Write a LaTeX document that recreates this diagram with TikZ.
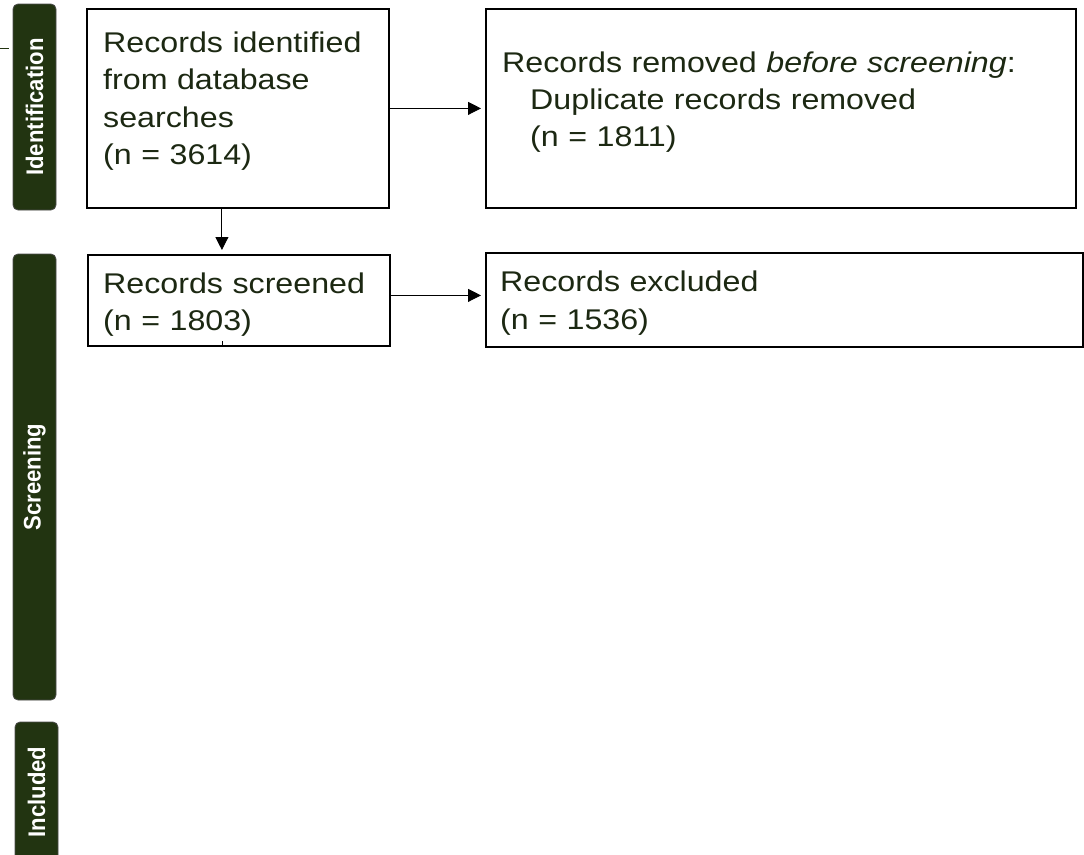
\documentclass[tikz,border=0pt]{standalone}
\usepackage{fontspec}
\setmainfont{Liberation Sans}[FakeStretch=1.13]
\newfontfamily\phasefont{Liberation Sans}[FakeStretch=0.92]
\usetikzlibrary{arrows.meta}
\definecolor{phasegreen}{RGB}{34,52,17}
\definecolor{inkgreen}{RGB}{28,40,18}
\tikzset{
  recbox/.style={draw, line width=1.8pt, inner sep=0pt, anchor=north west},
  rectext/.style={anchor=base west, inner sep=0pt, align=left, text=inkgreen, text width=#1},
  phasebar/.style={draw=black!70, line width=0.8pt, fill=phasegreen, rounded corners=5pt,
    rotate=90, minimum height=43pt, inner sep=0pt, text=white,
    font=\phasefont\bfseries\fontsize{24}{24}\selectfont},
  arr/.style={-{Triangle[length=13pt,width=13pt]}, line width=0.9pt, shorten >=4pt}
}

\begin{document}
\begin{tikzpicture}[x=1pt, y=-1pt]
\useasboundingbox (0,0) rectangle (1084,854);
% phase bars on the left
\node[phasebar, minimum width=206pt] (identbar) at (34.5,107) {Identification};
\node[phasebar, minimum width=446pt] (screenbar) at (34.5,477) {Screening};
\node[phasebar, minimum width=140pt] (inclbar) at (36.5,792) {Included};
\draw[phasegreen, line width=1pt] (0,48) -- (9,48);
% boxes
\node[recbox, minimum width=302pt, minimum height=199pt] (ident) at (86,8) {};
\node[recbox, minimum width=590pt, minimum height=199pt] (removed) at (485,8) {};
\node[recbox, minimum width=302pt, minimum height=91pt] (screened) at (87,254) {};
\node[recbox, minimum width=597pt, minimum height=94pt] (excluded) at (485,252) {};
% box texts
\node[rectext=280pt, font=\fontsize{28.5}{37.5}\selectfont] (identtxt) at (103,52)
  {Records identified\\from database\\searches\\(n = 3614)};
\node[rectext=570pt, font=\fontsize{28.5}{37}\selectfont] (removedtxt) at (502,72)
  {Records removed \textit{before screening}:\\\hspace*{28pt}Duplicate records removed\\\hspace*{28pt}(n = 1811)};
\node[rectext=280pt, font=\fontsize{28.5}{37}\selectfont] (screenedtxt) at (103,293)
  {Records screened\\(n = 1803)};
\node[rectext=570pt, font=\fontsize{28.5}{38.5}\selectfont] (excludedtxt) at (500,291)
  {Records excluded\\(n = 1536)};
% arrows
\draw[arr] (ident.east) -- (removed.west);
\draw[arr] ([xshift=-16pt]ident.south) -- ([xshift=-16pt]ident.south |- screened.north);
\draw[arr] ([yshift=5pt]screened.east) -- ([yshift=5pt]screened.east -| excluded.west);
\coordinate (stub) at ([xshift=-16pt,yshift=6pt]screened.south);
\draw[line width=0.9pt] ([xshift=-16pt]screened.south) -- (stub);
\end{tikzpicture}
\end{document}
